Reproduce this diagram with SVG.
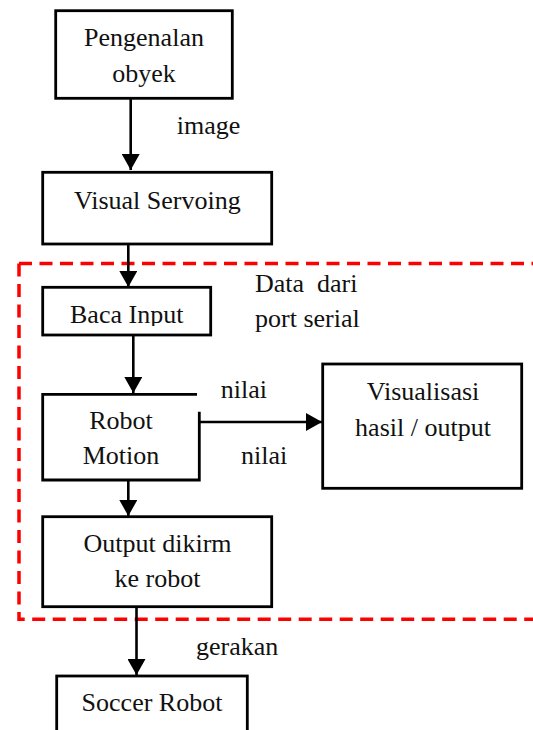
<svg xmlns="http://www.w3.org/2000/svg" width="533" height="730" viewBox="0 0 533 730">
<style>
  .box { fill: #ffffff; stroke: #000000; stroke-width: 2.8; }
  .edge { fill: none; stroke: #000000; stroke-width: 2.6; }
  text { font-family: "Liberation Serif", Tinos, "Times New Roman", Times, "Noto Serif", "DejaVu Serif", serif; font-size: 26px; fill: #111111; white-space: pre; }
  .c { text-anchor: middle; }
  .region { fill: none; stroke: #ff0000; stroke-width: 3.5; stroke-dasharray: 13 7.5; }
</style>
<defs>
  <marker id="arrow" viewBox="0 0 16 18" refX="16" refY="9" markerWidth="16" markerHeight="18" markerUnits="userSpaceOnUse" orient="auto">
    <path d="M0,0 L16,9 L0,18 Z" fill="#000000"/>
  </marker>
  <clipPath id="clipBaca">
    <rect x="42" y="287" width="170" height="39"/>
  </clipPath>
</defs>

<g id="region-dashed">
  <path class="region" d="M19,263.5 H540"/>
  <path class="region" d="M19,263.5 V619.3 H540"/>
</g>

<g id="connectors">
  <line class="edge" x1="130.7" y1="98" x2="130.7" y2="170" marker-end="url(#arrow)"/>
  <line class="edge" x1="128.3" y1="244" x2="128.3" y2="287" marker-end="url(#arrow)"/>
  <line class="edge" x1="133.3" y1="336" x2="133.3" y2="393" marker-end="url(#arrow)"/>
  <line class="edge" x1="199" y1="422" x2="322" y2="422" marker-end="url(#arrow)"/>
  <line class="edge" x1="128.3" y1="480" x2="128.3" y2="516" marker-end="url(#arrow)"/>
  <line class="edge" x1="136.5" y1="607" x2="136.5" y2="675" marker-end="url(#arrow)"/>
</g>

<g id="node-pengenalan">
  <rect class="box" x="55.7" y="10.7" width="176.6" height="87.6"/>
  <text class="c" x="144" y="45.5">Pengenalan</text>
  <text class="c" x="144" y="81.5">obyek</text>
</g>

<g id="label-image">
  <text x="176.7" y="134">image</text>
</g>

<g id="node-visual-servoing">
  <rect class="box" x="42.7" y="172.3" width="229" height="71.7"/>
  <text class="c" x="157.3" y="209">Visual Servoing</text>
</g>

<g id="node-baca-input">
  <rect class="box" x="42.7" y="287.3" width="168" height="47.7"/>
  <text class="c" x="126.7" y="323" clip-path="url(#clipBaca)">Baca Input</text>
</g>

<g id="label-data-dari">
  <text x="255" y="291.7" xml:space="preserve">Data  dari</text>
  <text x="255" y="326.7">port serial</text>
</g>

<g id="node-robot-motion">
  <path class="box" d="M197,394.3 H42.7 V480 H199.3 V411.7"/>
  <text class="c" x="121" y="428.5">Robot</text>
  <text class="c" x="121" y="464">Motion</text>
</g>

<g id="label-nilai">
  <text x="220.7" y="398.3">nilai</text>
  <text x="241" y="464">nilai</text>
</g>

<g id="node-visualisasi">
  <rect class="box" x="322.7" y="364" width="199" height="124.3"/>
  <text class="c" x="423" y="400">Visualisasi</text>
  <text class="c" x="423" y="436">hasil / output</text>
</g>

<g id="node-output">
  <rect class="box" x="42.7" y="516.7" width="229" height="90"/>
  <text class="c" x="157.5" y="551.7">Output dikirm</text>
  <text class="c" x="157.5" y="587">ke robot</text>
</g>

<g id="label-gerakan">
  <text x="196" y="655">gerakan</text>
</g>

<g id="node-soccer-robot">
  <rect class="box" x="56.7" y="676" width="190.6" height="70"/>
  <text class="c" x="152" y="710.7">Soccer Robot</text>
</g>
</svg>
